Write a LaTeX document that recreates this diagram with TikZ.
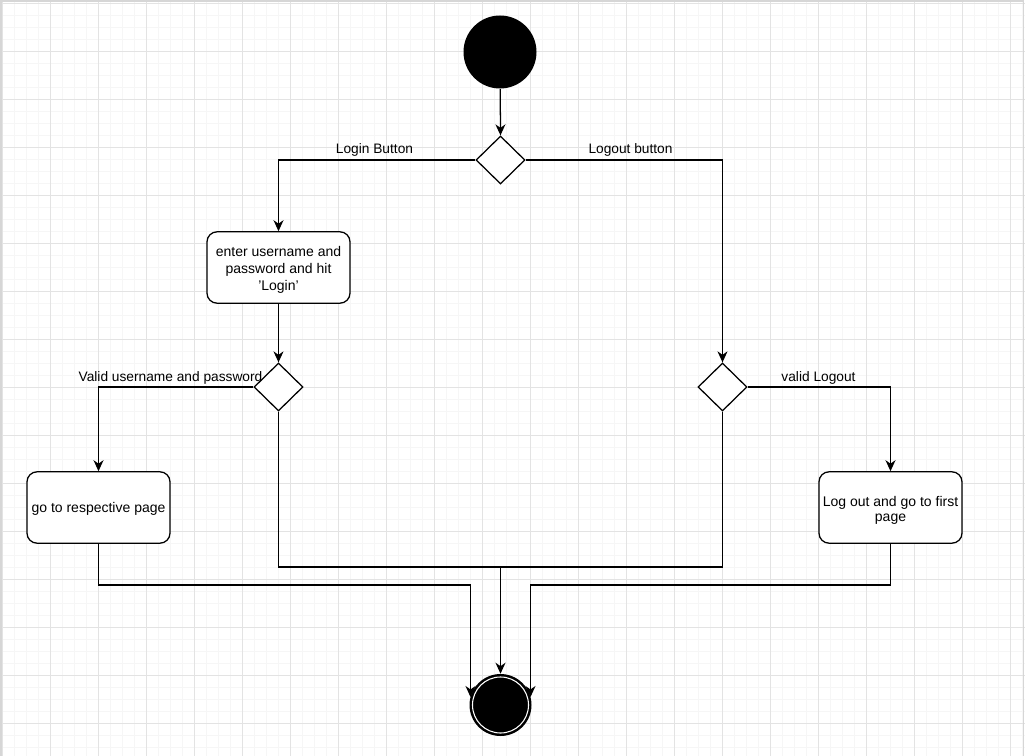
\documentclass[tikz,border=0pt]{standalone}
\usepackage{fontspec}
\setmainfont{Liberation Sans}
\usetikzlibrary{shapes.geometric,arrows.meta}
\definecolor{gridminor}{HTML}{F6F6F6}
\definecolor{gridmajor}{HTML}{E3E3E3}
\definecolor{framegray}{HTML}{D6D6D6}
% lower a node's text without changing the node's size
\newcommand{\lowered}[2]{\raisebox{-#1}[\height][\depth]{#2}}
\begin{document}
\begin{tikzpicture}[x=0.75pt,y=-0.75pt,
  line/.style={line width=0.95pt,black},
  arr/.style={line,-{Stealth[length=8.25pt,width=7.5pt,inset=2.6pt]}},
  action/.style={draw,line width=0.95pt,rounded corners=7.5pt,fill=white,
    minimum width=107.25pt,minimum height=53.5pt,inner sep=2pt,align=center,
    font=\fontsize{10.5}{12.6}\selectfont},
  choice/.style={draw,line width=0.95pt,diamond,fill=white,inner sep=0pt,
    minimum width=36.75pt,minimum height=36pt},
  startnode/.style={circle,fill=black,inner sep=0pt,minimum size=54.75pt},
  endnode/.style={circle,fill=black,inner sep=0pt,minimum size=46.5pt},
  lbl/.style={inner sep=0pt,font=\fontsize{10.3}{12.6}\selectfont}]

% canvas and grid
\useasboundingbox (0,0) rectangle (1025,756);
\fill[white] (0,0) rectangle (1025,756);
\foreach \i in {0,...,85} {\draw[gridminor,line width=0.6pt] ({2+12*\i},0) -- ({2+12*\i},756);}
\foreach \j in {0,...,63} {\draw[gridminor,line width=0.6pt] (0,{3.5+12*\j}) -- (1025,{3.5+12*\j});}
\foreach \i in {0,...,21} {\draw[gridmajor,line width=0.7pt] ({2+48*\i},0) -- ({2+48*\i},756);}
\foreach \j in {0,...,15} {\draw[gridmajor,line width=0.7pt] (0,{3.5+48*\j}) -- (1025,{3.5+48*\j});}
\draw[framegray,line width=1.4pt] (1,757) -- (1,1) -- (1023.5,1) -- (1023.5,757);

% nodes
\node[startnode] (start) at (500,52) {};
\node[choice] (d1) at (500.5,160) {};
\node[action] (b1) at (278.5,267.5) {\lowered{2pt}{\parbox{100pt}{\centering enter username and\\password and hit\\'Login'}}};
\node[choice] (d2) at (278.5,387) {};
\node[choice] (d3) at (722.5,387) {};
\node[action] (b2) at (98.5,507.5) {\lowered{1pt}{go to respective page}};
\node[action] (b3) at (890.5,507.5) {\lowered{2pt}{\parbox{102pt}{\centering Log out and go to first\\[-1pt]page}}};
\node[endnode] (end) at (500.5,705) {};
\draw[white,line width=0.8pt] (end.center) circle[radius=21pt];

\coordinate (m) at (500.5,567);
\coordinate (eL) at (470.5,697);
\coordinate (eR) at (530.5,697);

% labels
\node[lbl] (l1) at (374.5,149.5) {Login Button};
\node[lbl] (l2) at (630.5,149.5) {Logout button};
\node[lbl] (l3) at (170.5,377.5) {Valid username and password};
\node[lbl] (l4) at (818.5,377.5) {valid Logout};

% connectors
\draw[arr] (start) -- (d1.north);
\draw[arr] (d1.west) -| (b1.north);
\draw[arr] (d1.east) -| (d3.north);
\draw[arr] (b1.south) -- (d2.north);
\draw[arr] (d2.west) -| (b2.north);
\draw[arr] (d3.east) -| (b3.north);
\draw[line] (d2.south) |- (m);
\draw[line] (d3.south) |- (m);
\draw[arr] (m) -- (end.north);
\draw[arr] (b2.south) |- (470.5,585) -- (eL);
\draw[arr] (b3.south) |- (530.5,585) -- (eR);
\end{tikzpicture}
\end{document}
